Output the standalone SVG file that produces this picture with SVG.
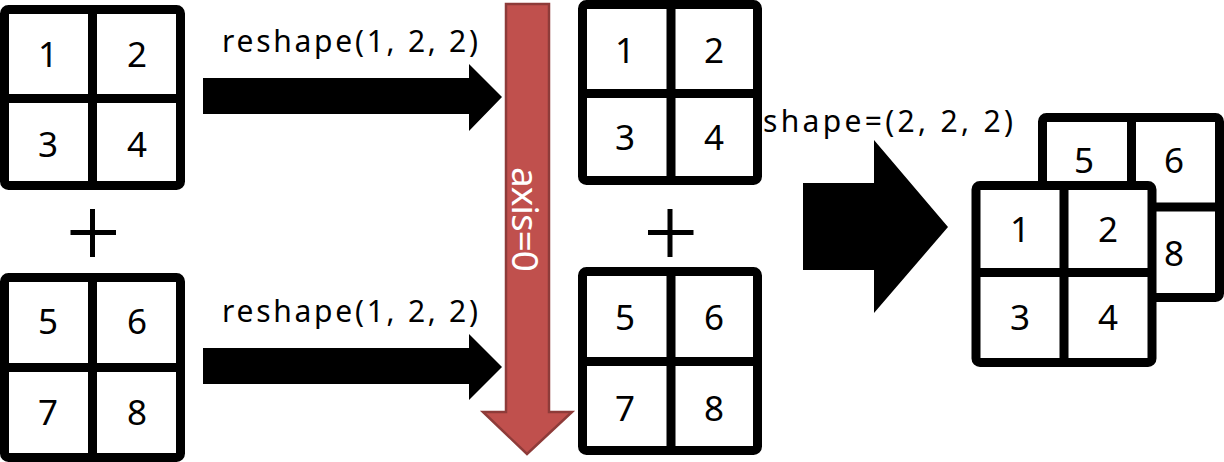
<svg xmlns="http://www.w3.org/2000/svg" width="1224" height="462" viewBox="0 0 1224 462">
<style>
.box{fill:#fff;stroke:#000;stroke-width:9;stroke-linejoin:round}
.div{stroke:#000;stroke-width:9;fill:none}
.num{font-family:"Noto Sans","Open Sans",sans-serif;font-size:35px;fill:#000;text-anchor:middle}
.lbl{font-family:"Noto Sans","Open Sans",sans-serif;font-size:30px;fill:#000}
.arr{fill:#000}
.plus{stroke:#000;stroke-width:5;fill:none}
</style>
<rect width="1224" height="462" fill="#fff"/>
<g id="connectors">
<polygon class="arr" points="203,78 469,78 469,64 502,97 469,131 469,114 203,114"/>
<polygon class="arr" points="203,348 469,348 469,334 502,367 469,400 469,384 203,384"/>
<polygon class="arr" points="803,183 874,183 874,140 948,227 874,313 874,270 803,270"/>
<g id="axis0">
<polygon points="506,4 549,4 549,412 572,412 527,454 483,412 506,412" fill="#C0504D" stroke="#8E3B39" stroke-width="2.5" stroke-linejoin="miter"/>
<text transform="translate(512,219.5) rotate(90)" text-anchor="middle" font-family="Noto Sans, Open Sans, sans-serif" font-size="37" fill="#fff" textLength="105" lengthAdjust="spacing">axis=0</text>
</g>
</g>
<text class="lbl" x="222" y="52" textLength="256" lengthAdjust="spacing">reshape(1, 2, 2)</text>
<text class="lbl" x="222" y="322" textLength="256" lengthAdjust="spacing">reshape(1, 2, 2)</text>
<text class="lbl" x="763" y="132" textLength="250" lengthAdjust="spacing">shape=(2, 2, 2)</text>
<g id="plus1"><path class="plus" d="M92.5,209V257M70.5,232.5H116"/></g>
<g id="plus2"><path class="plus" d="M670,209V257M648,232.5H693.5"/></g>
<g id="grid-a">
<rect class="box" x="4.5" y="9.5" width="176" height="176" rx="4"/>
<path class="div" d="M92.5,9.5V185.5M4.5,98.5H180.5"/>
<text class="num" x="48" y="67">1</text><text class="num" x="137" y="67">2</text>
<text class="num" x="48" y="157">3</text><text class="num" x="137" y="157">4</text>
</g>
<g id="grid-b">
<rect class="box" x="4.5" y="277.5" width="176" height="180" rx="4"/>
<path class="div" d="M92.5,277.5V457.5M4.5,367.5H180.5"/>
<text class="num" x="48" y="334">5</text><text class="num" x="137" y="334">6</text>
<text class="num" x="48" y="425">7</text><text class="num" x="137" y="425">8</text>
</g>
<g id="grid-c">
<rect class="box" x="582.5" y="4.5" width="175" height="176" rx="4"/>
<path class="div" d="M671,4.5V180.5M582.5,93.5H757.5"/>
<text class="num" x="625" y="63">1</text><text class="num" x="714" y="63">2</text>
<text class="num" x="625" y="150">3</text><text class="num" x="714" y="150">4</text>
</g>
<g id="grid-d">
<rect class="box" x="582.5" y="271.5" width="175" height="179" rx="4"/>
<path class="div" d="M671,271.5V450.5M582.5,361.5H757.5"/>
<text class="num" x="625" y="330">5</text><text class="num" x="714" y="330">6</text>
<text class="num" x="625" y="421">7</text><text class="num" x="714" y="421">8</text>
</g>
<g id="stack-back">
<rect class="box" x="1042.5" y="117.5" width="177" height="180" rx="4"/>
<path class="div" d="M1131.5,117.5V297.5M1042.5,207H1219.5"/>
<text class="num" x="1084" y="173">5</text><text class="num" x="1174" y="173">6</text>
<text class="num" x="1174" y="266">8</text>
</g>
<g id="stack-front">
<rect class="box" x="976" y="185.5" width="176" height="177" rx="4"/>
<path class="div" d="M1064,185.5V362.5M976,272.5H1152"/>
<text class="num" x="1020" y="242">1</text><text class="num" x="1108" y="242">2</text>
<text class="num" x="1020" y="330">3</text><text class="num" x="1108" y="330">4</text>
</g>
</svg>
